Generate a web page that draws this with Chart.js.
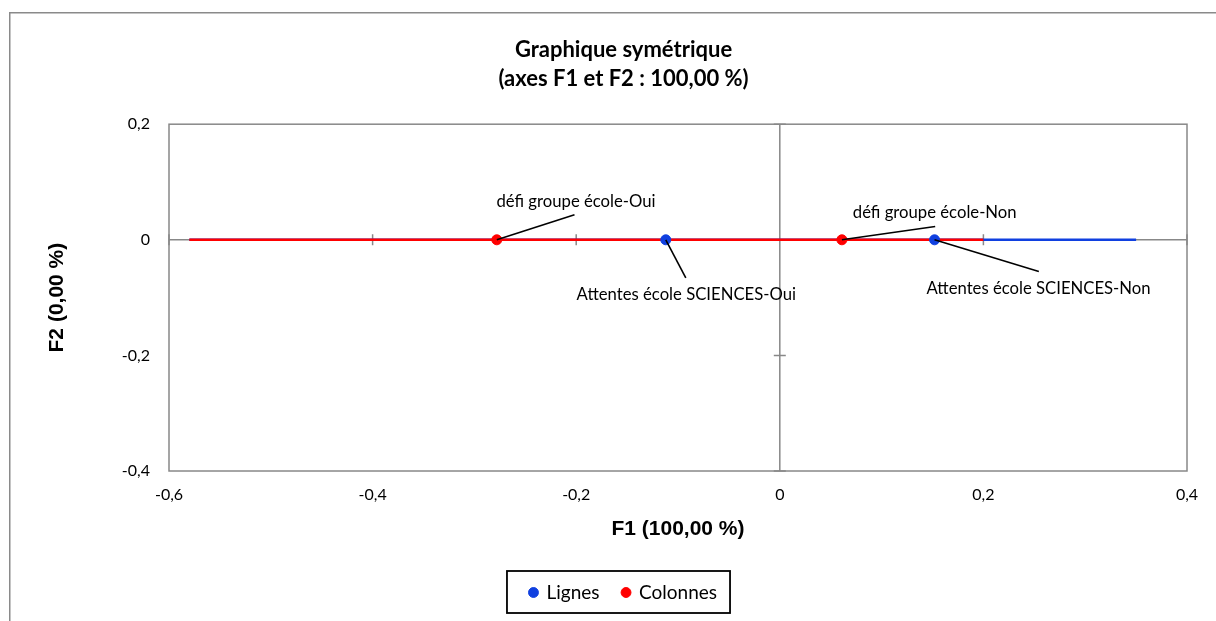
<!DOCTYPE html>
<html><head><meta charset="utf-8">
<script src="https://cdn.jsdelivr.net/npm/chart.js@4.4.1/dist/chart.umd.min.js"></script>
<style>html,body{margin:0;padding:0;background:#fff;overflow:hidden}canvas{display:block}</style>
</head><body>
<canvas id="c" width="1216" height="621"></canvas>
<script>
// ---- data ----
const titleLines = ['Graphique symétrique', '(axes F1 et F2 : 100,00 %)'];
const xAxisTitle = 'F1 (100,00 %)';
const yAxisTitle = 'F2 (0,00 %)';
const xTicks = [-0.6, -0.4, -0.2, 0, 0.2, 0.4];
const xTickLabels = ['-0,6', '-0,4', '-0,2', '0', '0,2', '0,4'];
const yTicks = [-0.4, -0.2, 0, 0.2];
const yTickLabels = ['-0,4', '-0,2', '0', '0,2'];
const seriesNames = ['Lignes', 'Colonnes'];
const rowLabels = ['Attentes école SCIENCES-Oui', 'Attentes école SCIENCES-Non'];
const rowF1 = [-0.112, 0.152];
const rowF2 = [0, 0];
const colLabels = ['défi groupe école-Oui', 'défi groupe école-Non'];
const colF1 = [-0.278, 0.061];
const colF2 = [0, 0];
const rowSegmentF1 = [-0.58, 0.35];
const colSegmentF1 = [-0.58, 0.2];

// ---- styles ----
const BLUE = '#1040e0';
const RED = '#ff0000';
const GREY = '#888888';
const LABEL_FONT = '16.7px Lato';

// label placement relative to its point: text centre (tx,ty) and leader end (lx,ly)
const placement = [
  [{tx: 20.5, ty: 55, lx: 20, ly: 38}, {tx: 104, ty: 48.5, lx: 104.3, ly: 31.7}],
  [{tx: 79.2, ty: -38, lx: 77.7, ly: -25}, {tx: 92.8, ty: -27, lx: 93.3, ly: -13.3}]
];

const decor = {
  id: 'decor',
  beforeDraw(chart) {
    const ctx = chart.ctx;
    ctx.save();
    ctx.fillStyle = '#fff';
    ctx.fillRect(0, 0, chart.width, chart.height);
    ctx.strokeStyle = '#8a8a8a';
    ctx.lineWidth = 1.5;
    ctx.beginPath();
    ctx.moveTo(9.75, 700); ctx.lineTo(9.75, 12.75); ctx.lineTo(1300, 12.75);
    ctx.stroke();
    ctx.restore();
  },
  beforeDatasetsDraw(chart) {
    const {ctx, chartArea: a, scales: {x, y}} = chart;
    ctx.save();
    ctx.strokeStyle = GREY;
    ctx.lineWidth = 1.5;
    ctx.strokeRect(a.left, a.top, a.right - a.left, a.bottom - a.top);
    const x0 = x.getPixelForValue(0), y0 = y.getPixelForValue(0);
    ctx.beginPath();
    ctx.moveTo(a.left, y0); ctx.lineTo(a.right, y0);
    ctx.moveTo(x0, a.top); ctx.lineTo(x0, a.bottom);
    xTicks.forEach(v => { const p = x.getPixelForValue(v); ctx.moveTo(p, y0 - 5.5); ctx.lineTo(p, y0 + 5.5); });
    yTicks.forEach(v => { const p = y.getPixelForValue(v); ctx.moveTo(x0 - 6, p); ctx.lineTo(x0 + 6, p); });
    ctx.stroke();
    ctx.restore();
  },
  afterDatasetsDraw(chart) {
    const ctx = chart.ctx;
    ctx.save();
    ctx.font = LABEL_FONT;
    ctx.textAlign = 'center';
    ctx.textBaseline = 'middle';
    [0, 1].forEach(di => {
      const ds = chart.data.datasets[di];
      const meta = chart.getDatasetMeta(di);
      meta.data.forEach((pt, j) => {
        const pl = placement[di][j];
        ctx.strokeStyle = '#000';
        ctx.lineWidth = 1.6;
        ctx.beginPath();
        ctx.moveTo(pt.x, pt.y);
        ctx.lineTo(pt.x + pl.lx, pt.y + pl.ly);
        ctx.stroke();
        ctx.fillStyle = '#000';
        ctx.fillText(ds.pointLabels[j], pt.x + pl.tx, pt.y + pl.ty);
      });
    });
    ctx.restore();
  },
  afterDraw(chart) {
    const hb = chart.legend && chart.legend.legendHitBoxes;
    if (!hb || !hb.length) return;
    const ctx = chart.ctx;
    const first = hb[0], last = hb[hb.length - 1];
    const cy = first.top + first.height / 2;
    ctx.save();
    ctx.strokeStyle = '#000';
    ctx.lineWidth = 1.8;
    const l = first.left - 23, r = last.left + last.width + 13;
    ctx.strokeRect(l, cy - 21.5, r - l, 42);
    ctx.restore();
  }
};

function build() {
  Chart.defaults.font.family = 'Lato';
  Chart.defaults.color = '#000';
  new Chart(document.getElementById('c'), {
    type: 'scatter',
    data: {
      datasets: [
        {label: seriesNames[0], data: rowF1.map((v, i) => ({x: v, y: rowF2[i]})), pointLabels: rowLabels,
         backgroundColor: BLUE, borderColor: BLUE, pointRadius: 5, pointBorderWidth: 1, showLine: false, order: 0, pointStyle: 'circle'},
        {label: seriesNames[1], data: colF1.map((v, i) => ({x: v, y: colF2[i]})), pointLabels: colLabels,
         backgroundColor: RED, borderColor: RED, pointRadius: 5, pointBorderWidth: 1, showLine: false, order: 0, pointStyle: 'circle'},
        {label: 'seg-rows', data: rowSegmentF1.map(v => ({x: v, y: 0})), showLine: true,
         borderColor: BLUE, backgroundColor: BLUE, borderWidth: 2.6, pointRadius: 0, order: 2},
        {label: 'seg-cols', data: colSegmentF1.map(v => ({x: v, y: 0})), showLine: true,
         borderColor: RED, backgroundColor: RED, borderWidth: 2.6, pointRadius: 0, order: 1}
      ]
    },
    options: {
      responsive: false,
      animation: false,
      events: [],
      layout: {padding: {left: 45, right: 14, top: 0, bottom: 9}},
      scales: {
        x: {
          type: 'linear', position: 'bottom', min: -0.6, max: 0.4,
          afterBuildTicks: s => { s.ticks = xTicks.map(v => ({value: v})); },
          ticks: {callback: (v, i) => xTickLabels[i], font: {size: 16}, color: '#000', padding: 14, maxRotation: 0, autoSkip: false},
          grid: {display: false, drawTicks: false},
          border: {display: false},
          title: {display: true, text: xAxisTitle, color: '#000',
                  font: {family: 'Liberation Sans', size: 21, weight: 'bold', lineHeight: 1.2}, padding: {top: 0, bottom: 18}},
          afterFit: s => { s.height = 89; }
        },
        y: {
          type: 'linear', position: 'left', min: -0.4, max: 0.2,
          afterBuildTicks: s => { s.ticks = yTicks.map(v => ({value: v})); },
          ticks: {callback: (v, i) => yTickLabels[i], font: {size: 16}, color: '#000', padding: 19, autoSkip: false},
          grid: {display: false, drawTicks: false},
          border: {display: false},
          title: {display: true, text: yAxisTitle, color: '#000',
                  font: {family: 'Liberation Sans', size: 21, weight: 'bold', lineHeight: 1.2}, padding: {top: 0, bottom: 0}},
          afterFit: s => { s.width = 124; }
        },
        y2: {
          type: 'linear', position: 'right', display: true,
          grid: {display: false, drawTicks: false}, border: {display: false}, ticks: {display: false},
          afterFit: s => { s.width = 15; }
        }
      },
      plugins: {
        title: {display: true, text: titleLines, color: '#000',
                font: {size: 22, weight: 'bold', lineHeight: 1.3}, padding: {top: 36, bottom: 31}},
        legend: {
          display: true, position: 'bottom',
          labels: {usePointStyle: true, boxWidth: 7, boxHeight: 7, padding: 23, font: {size: 19}, color: '#000',
                   filter: item => item.datasetIndex < 2}
        },
        tooltip: {enabled: false}
      }
    },
    plugins: [decor]
  });
}
const fontLoads = ['17px Lato', 'bold 22px Lato', 'bold 21px "Liberation Sans"'].map(f => document.fonts.load(f));
Promise.all(fontLoads).then(build, build);
</script>
</body></html>
